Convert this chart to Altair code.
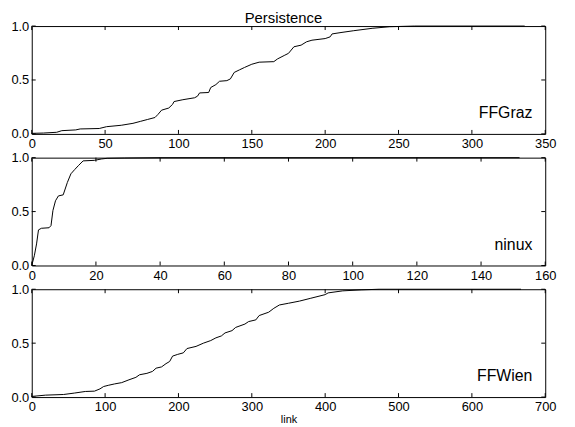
import altair as alt
import pandas as pd

FONT = "Liberation Sans"
chart_title = "Persistence"
x_title = "link"

# FFGraz
graz_x = [0, 8, 17, 20.5, 30, 33, 46, 51, 61, 69, 74, 79, 84, 86, 88.5, 93.4, 96, 97,
          103, 111, 113, 114.4, 120.6, 122, 125.5, 128, 133, 135.4, 138, 141.6, 145, 150,
          155, 165, 167.5, 172.5, 175, 178.7, 183.6, 187.3, 191, 200, 203.4, 204.7, 210.8,
          219.5, 232, 244, 261, 336]
graz_y = [0.005, 0.008, 0.015, 0.03, 0.037, 0.046, 0.05, 0.067, 0.08, 0.098, 0.116, 0.134,
          0.152, 0.18, 0.22, 0.24, 0.274, 0.30, 0.317, 0.335, 0.35, 0.38, 0.384, 0.43, 0.457,
          0.488, 0.494, 0.51, 0.57, 0.594, 0.616, 0.646, 0.665, 0.67, 0.695, 0.73, 0.747,
          0.808, 0.823, 0.854, 0.869, 0.884, 0.90, 0.927, 0.94, 0.957, 0.979, 0.994, 1.0, 1.0]

# ninux
ninux_x = [0, 0.8, 1.5, 2.1, 3, 5.4, 6, 6.6, 7.4, 8.3, 9.8, 11.1, 12.2, 13.4, 14.5, 16,
           19.5, 21.8, 23.5, 29, 40, 152]
ninux_y = [0, 0.09, 0.2, 0.33, 0.345, 0.35, 0.37, 0.51, 0.6, 0.645, 0.655, 0.77, 0.85,
           0.89, 0.925, 0.97, 0.975, 0.988, 0.994, 0.997, 1.0, 1.0]

# FFWien
wien_x = [0, 19, 43.5, 58, 73, 85.5, 93, 98, 105, 113, 122.6, 132.5, 142, 147, 157, 164.6,
          169.5, 177, 183, 188, 192, 199, 206.6, 211.6, 224, 234, 244, 251, 258.5, 263.5,
          273, 278, 290.6, 295.6, 305.5, 310, 323, 330, 337.6, 350, 365, 379.6, 400, 404,
          424, 449, 473.5, 667]
wien_y = [0.006, 0.018, 0.024, 0.037, 0.052, 0.055, 0.076, 0.098, 0.11, 0.122, 0.134,
          0.16, 0.183, 0.207, 0.22, 0.238, 0.268, 0.28, 0.31, 0.33, 0.38, 0.396, 0.41,
          0.45, 0.47, 0.5, 0.524, 0.549, 0.567, 0.595, 0.616, 0.646, 0.677, 0.70, 0.716,
          0.756, 0.787, 0.823, 0.854, 0.87, 0.89, 0.915, 0.95, 0.966, 0.985, 0.994, 1.0, 1.0]

panel_names = ["FFGraz", "ninux", "FFWien"]
x_maxes = [350, 160, 700]
x_ticks = [
    [0, 50, 100, 150, 200, 250, 300, 350],
    [0, 20, 40, 60, 80, 100, 120, 140, 160],
    [0, 100, 200, 300, 400, 500, 600, 700],
]
y_ticks = [0.0, 0.5, 1.0]

W, H = 519, 109
TICK = 4


def panel(name, xs, ys, xmax, xt, last):
    df = pd.DataFrame({"x": xs, "y": ys})
    xscale = alt.Scale(domain=[0, xmax], nice=False, zero=False)
    yscale = alt.Scale(domain=[0, 1], nice=False, zero=False)
    xaxis_kw = dict(values=xt, format="d", tickSize=0, domain=False, grid=False,
                    labelFontSize=13, labelFont=FONT, labelColor="black", labelPadding=4,
                    labelFlush=False, labelOverlap=False)
    if last:
        xaxis = alt.Axis(title=x_title, titleFontSize=11, titleFont=FONT,
                         titleFontWeight="normal", titleColor="black", titlePadding=0,
                         **xaxis_kw)
    else:
        xaxis = alt.Axis(title=None, **xaxis_kw)
    yaxis = alt.Axis(values=y_ticks, format=".1f", tickSize=0, domain=False, grid=False,
                     labelFontSize=13, labelFont=FONT, labelColor="black", labelPadding=3,
                     labelFlush=False, labelOverlap=False, title=None)

    line = alt.Chart(df).mark_line(color="black", strokeWidth=1).encode(
        x=alt.X("x:Q", scale=xscale, axis=xaxis),
        y=alt.Y("y:Q", scale=yscale, axis=yaxis),
    )
    xtd = pd.DataFrame({"x": xt})
    ytd = pd.DataFrame({"y": y_ticks})
    bottom = alt.Chart(xtd).mark_rule(color="black", strokeWidth=1).encode(
        x=alt.X("x:Q", scale=xscale, axis=xaxis), y=alt.value(H), y2=alt.value(H - TICK))
    top = alt.Chart(xtd).mark_rule(color="black", strokeWidth=1).encode(
        x=alt.X("x:Q", scale=xscale, axis=xaxis), y=alt.value(0), y2=alt.value(TICK))
    left = alt.Chart(ytd).mark_rule(color="black", strokeWidth=1).encode(
        y=alt.Y("y:Q", scale=yscale, axis=yaxis), x=alt.value(0), x2=alt.value(TICK))
    right = alt.Chart(ytd).mark_rule(color="black", strokeWidth=1).encode(
        y=alt.Y("y:Q", scale=yscale, axis=yaxis), x=alt.value(W), x2=alt.value(W - TICK))
    label = alt.Chart(pd.DataFrame({"name": [name]})).mark_text(
        align="right", baseline="alphabetic", fontSize=16, font=FONT, color="black"
    ).encode(x=alt.value(W - 13), y=alt.value(H - 16), text="name:N")
    return alt.layer(line, bottom, top, left, right, label).properties(width=W, height=H)


series = [(graz_x, graz_y), (ninux_x, ninux_y), (wien_x, wien_y)]
panels = [
    panel(panel_names[i], series[i][0], series[i][1], x_maxes[i], x_ticks[i], i == 2)
    for i in range(3)
]

chart = alt.vconcat(*panels, spacing=24, bounds="flush").properties(
    title=alt.TitleParams(chart_title, fontSize=15, font=FONT, fontWeight="normal",
                          color="black", anchor="middle", offset=-6),
    padding={"left": 2, "top": 0, "right": 10, "bottom": 0},
    background="white",
).configure_view(stroke="black", strokeWidth=1)

chart.save("out.html", embed_options={"renderer": "svg", "actions": False})
